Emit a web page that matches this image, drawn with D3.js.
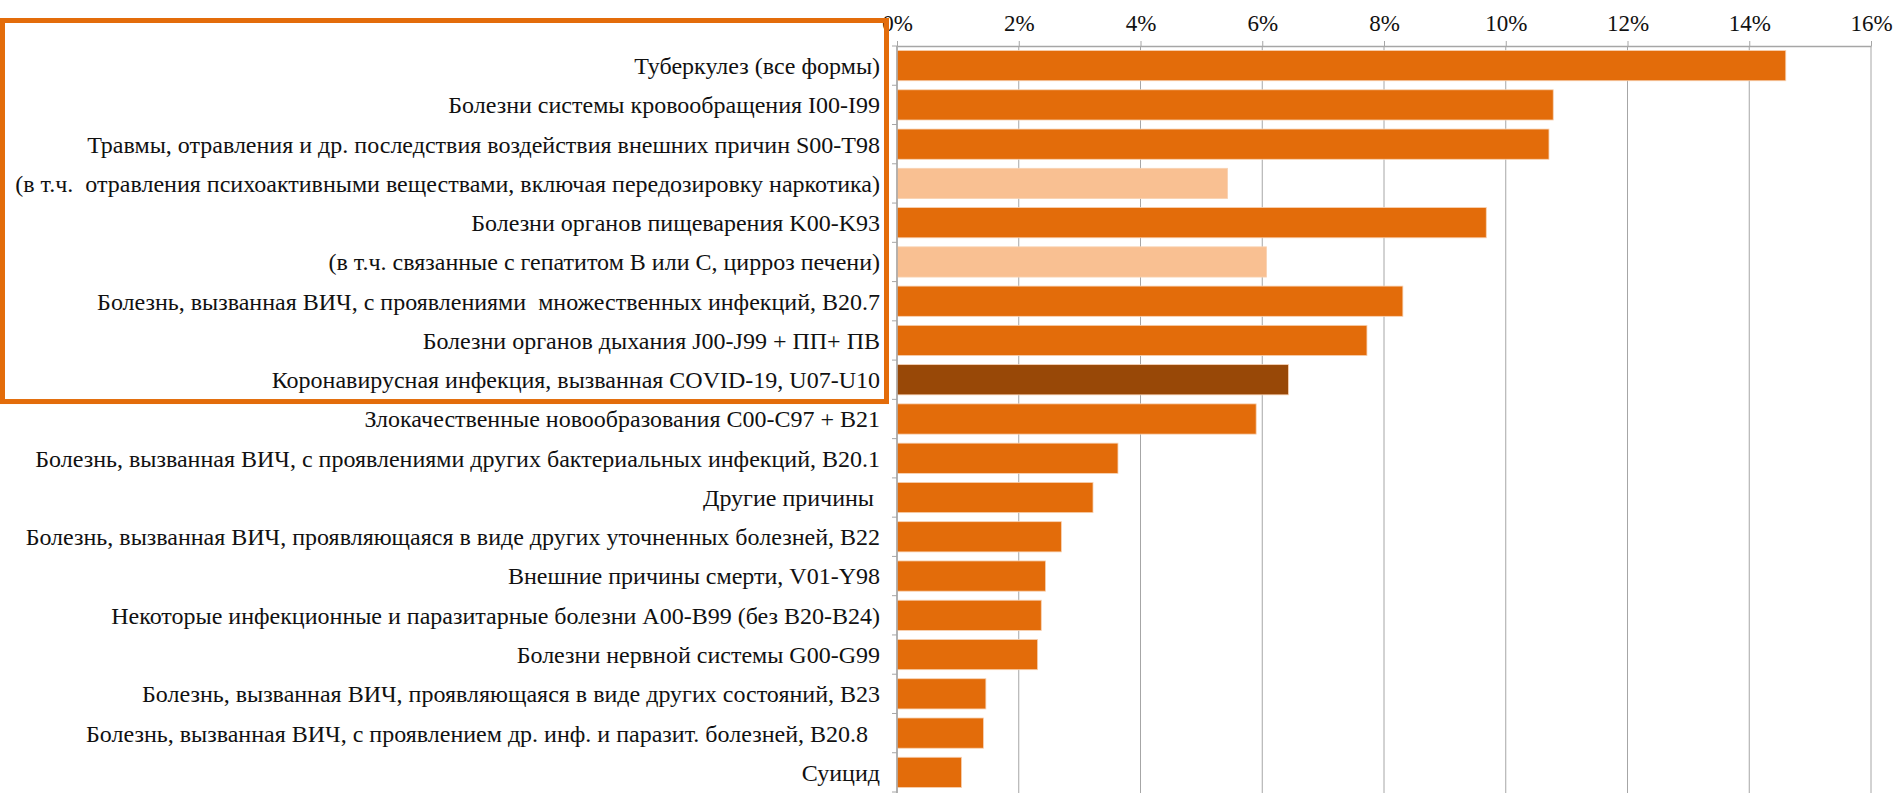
<!DOCTYPE html>
<html>
<head>
<meta charset="utf-8">
<script src="https://cdn.jsdelivr.net/npm/d3@7"></script>
<style>
  body { margin: 0; background: #fff; }
  text { white-space: pre; }
</style>
</head>
<body>
<div id="chart"></div>
<script>
// causes of death, share of total
var categories = [
  "Туберкулез (все формы)",
  "Болезни системы кровообращения I00-I99",
  "Травмы, отравления и др. последствия воздействия внешних причин S00-T98",
  "(в т.ч.  отравления психоактивными веществами, включая передозировку наркотика)",
  "Болезни органов пищеварения K00-K93",
  "(в т.ч. связанные с гепатитом B или C, цирроз печени)",
  "Болезнь, вызванная ВИЧ, с проявлениями  множественных инфекций, B20.7",
  "Болезни органов дыхания J00-J99 + ПП+ ПВ",
  "Коронавирусная инфекция, вызванная COVID-19, U07-U10",
  "Злокачественные новообразования C00-C97 + B21",
  "Болезнь, вызванная ВИЧ, с проявлениями других бактериальных инфекций, B20.1",
  "Другие причины ",
  "Болезнь, вызванная ВИЧ, проявляющаяся в виде других уточненных болезней, B22",
  "Внешние причины смерти, V01-Y98",
  "Некоторые инфекционные и паразитарные болезни A00-B99 (без B20-B24)",
  "Болезни нервной системы G00-G99",
  "Болезнь, вызванная ВИЧ, проявляющаяся в виде других состояний, B23",
  "Болезнь, вызванная ВИЧ, с проявлением др. инф. и паразит. болезней, B20.8  ",
  "Суицид"
];
var values = [14.60, 10.78, 10.71, 5.43, 9.68, 6.07, 8.31, 7.72, 6.43, 5.90,
              3.63, 3.22, 2.70, 2.44, 2.37, 2.31, 1.46, 1.42, 1.06];
// 0 = normal, 1 = "в т.ч." sub-rows, 2 = COVID
var kinds = [0, 0, 0, 1, 0, 1, 0, 0, 2, 0, 0, 0, 0, 0, 0, 0, 0, 0, 0];
var xTicks = [0, 2, 4, 6, 8, 10, 12, 14, 16];
var colors = ["#E36C0A", "#F9C092", "#984807"];

var width = 1897, height = 793;
var margin = { top: 46, right: 26, bottom: 1, left: 897 };

var data = categories.map(function (c, i) {
  return { name: c, value: values[i], kind: kinds[i] };
});

var svg = d3.select("#chart")
  .append("svg")
  .attr("width", width)
  .attr("height", height);

var x = d3.scaleLinear().domain([0, 16]).range([margin.left, width - margin.right]);
var y = d3.scaleBand()
  .domain(categories)
  .range([margin.top, height - margin.bottom])
  .paddingInner(0.23)
  .paddingOuter(0.115);

// gridlines
svg.append("g")
  .selectAll("line")
  .data(xTicks)
  .enter()
  .append("line")
  .attr("x1", function (d) { return x(d); })
  .attr("x2", function (d) { return x(d); })
  .attr("y1", margin.top)
  .attr("y2", height)
  .attr("stroke", "#a6a6a6")
  .attr("stroke-width", 1);

// bars
svg.append("g")
  .selectAll("rect")
  .data(data)
  .enter()
  .append("rect")
  .attr("x", x(0))
  .attr("y", function (d) { return y(d.name); })
  .attr("width", function (d) { return x(d.value) - x(0); })
  .attr("height", y.bandwidth())
  .attr("fill", function (d) { return colors[d.kind]; })
  .attr("stroke", "#f8d2b2")
  .attr("stroke-width", 0.8);

// top axis
var xAxis = d3.axisTop(x)
  .tickValues(xTicks)
  .tickFormat(function (d) { return d + "%"; })
  .tickSizeInner(5)
  .tickSizeOuter(0)
  .tickPadding(10);

var gx = svg.append("g")
  .attr("transform", "translate(0," + margin.top + ")")
  .call(xAxis);
gx.select(".domain").attr("stroke", "#a6a6a6").attr("stroke-width", 1.5);
gx.selectAll(".tick line").attr("stroke", "#a6a6a6");
gx.selectAll(".tick text")
  .attr("fill", "#111")
  .style("font-family", "'Liberation Serif', serif")
  .style("font-size", "23px");

// left axis line with ticks at band boundaries
var step = y.step();
var bounds = d3.range(categories.length + 1).map(function (i) {
  return margin.top + i * step;
});
svg.append("line")
  .attr("x1", x(0)).attr("x2", x(0))
  .attr("y1", margin.top).attr("y2", height)
  .attr("stroke", "#a6a6a6")
  .attr("stroke-width", 1.5);
svg.append("g")
  .selectAll("line")
  .data(bounds)
  .enter()
  .append("line")
  .attr("x1", x(0) - 5).attr("x2", x(0))
  .attr("y1", function (d) { return d; })
  .attr("y2", function (d) { return d; })
  .attr("stroke", "#a6a6a6");

// category labels
svg.append("g")
  .selectAll("text")
  .data(data)
  .enter()
  .append("text")
  .attr("x", x(0) - 17)
  .attr("y", function (d) { return y(d.name) + y.bandwidth() / 2; })
  .attr("dy", "0.35em")
  .attr("text-anchor", "end")
  .attr("fill", "#111")
  .style("font-family", "'Liberation Serif', serif")
  .style("font-size", "24px")
  .text(function (d) { return d.name; });

// highlight box around the top rows
svg.append("rect")
  .attr("x", 2.5)
  .attr("y", 20.5)
  .attr("width", 884)
  .attr("height", y(categories[8]) + step - 20.5 - step * 0.06)
  .attr("fill", "none")
  .attr("stroke", "#E36C0A")
  .attr("stroke-width", 5);
</script>
</body>
</html>
